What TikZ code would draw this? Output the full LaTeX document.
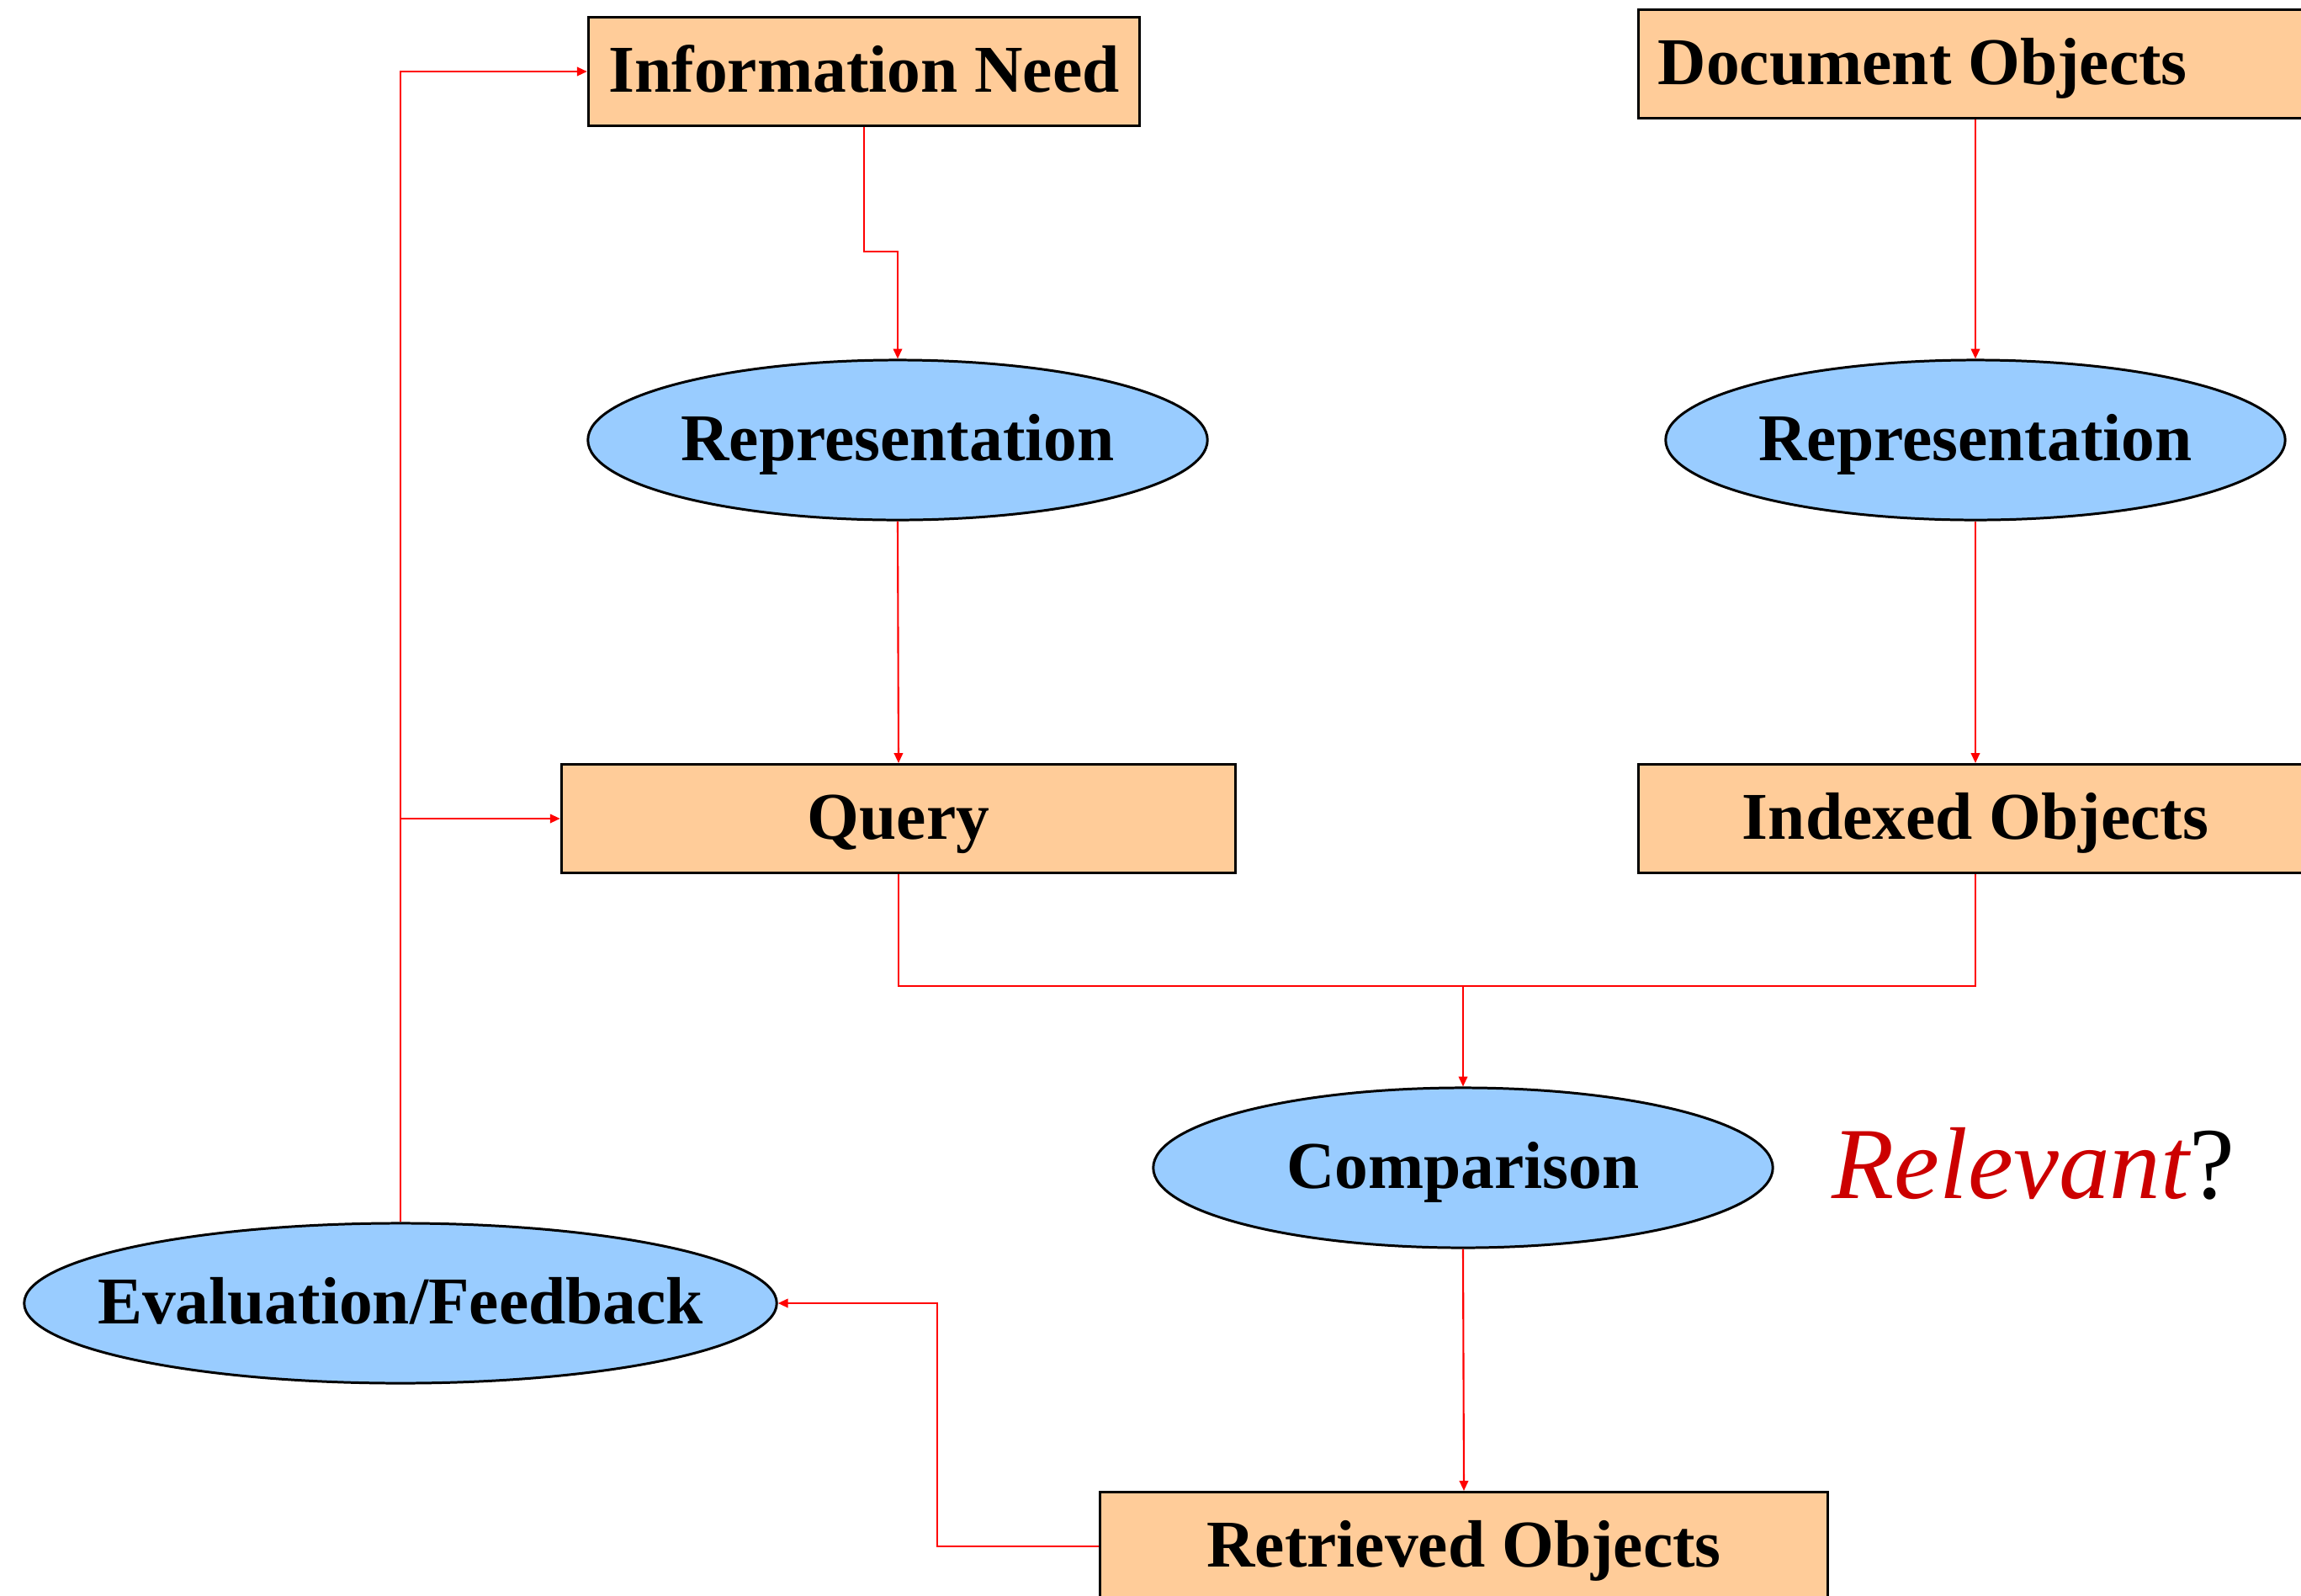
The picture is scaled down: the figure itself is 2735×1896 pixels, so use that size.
\documentclass[tikz,border=0pt]{standalone}
\usepackage{fontspec}
\setmainfont{Liberation Serif}
\usetikzlibrary{shapes.geometric,arrows.meta}
\definecolor{boxfill}{HTML}{FFCC99}
\definecolor{ellfill}{HTML}{99CCFF}
\definecolor{relred}{HTML}{CC0000}
\begin{document}
\begin{tikzpicture}[x=0.01cm,y=-0.01cm,
 lab/.style={font=\fontsize{22.6}{27}\selectfont\bfseries, text height=18.5pt, text depth=4.5pt},
 rbox/.style={draw=black, line width=0.85pt, fill=boxfill, rectangle, minimum height=1.29cm, inner sep=0pt, lab},
 oval/.style={draw=black, line width=0.85pt, fill=ellfill, ellipse, inner sep=0pt, minimum width=7.36cm, minimum height=1.9cm, lab},
 link/.style={draw=red, line width=0.6pt},
 arr/.style={link, -{Triangle[width=3pt,length=3.4pt]}}]
\fill[white] (0,0) rectangle (2735,1896);
\useasboundingbox (0,0) rectangle (2735,1896);
\node[rbox, minimum width=6.55cm] (need) at (1027,85) {Information Need};
\node[rbox, minimum width=8.1cm] (doc) at (2353,76) {\makebox[7.64cm][l]{Document Objects}};
\node[oval] (repq) at (1067,523) {\makebox[0pt]{Representation}};
\node[oval] (repd) at (2348,523) {\makebox[0pt]{Representation}};
\node[rbox, minimum width=8.01cm] (query) at (1068,973) {Query};
\node[rbox, minimum width=8.0cm] (idx) at (2348,973) {Indexed Objects};
\node[oval] (comp) at (1739,1388) {\makebox[0pt]{Comparison}};
\node[oval, minimum width=8.94cm] (eval) at (476,1549) {\makebox[0pt]{Evaluation/Feedback}};
\node[rbox, minimum width=8.64cm] (retr) at (1740,1838) {Retrieved Objects};
\node[anchor=base west, inner sep=0pt, font=\fontsize{34.5}{40}\selectfont] (rel) at (2177,1424) {\textcolor{relred}{\itshape Relevant}?};
\coordinate (m) at (1739,1172);
% connectors
\draw[arr] (need.south) -- ++(0,148) -| (repq.north);
\draw[arr] (repq.south) -- (query.north);
\draw[arr] (repd.north |- doc.south) -- (repd.north);
\draw[arr] (repd.south) -- (idx.north);
\draw[link] (query.south) |- (m) -| (idx.south);
\draw[arr] (m) -- (comp.north);
\draw[arr] (comp.south) -- (retr.north);
\draw[arr] (retr.west) -- ++(-192,0) |- (eval.east);
\draw[arr] (eval.north) |- (need.west);
\draw[arr] (eval.north |- query.west) -- (query.west);
\end{tikzpicture}
\end{document}
